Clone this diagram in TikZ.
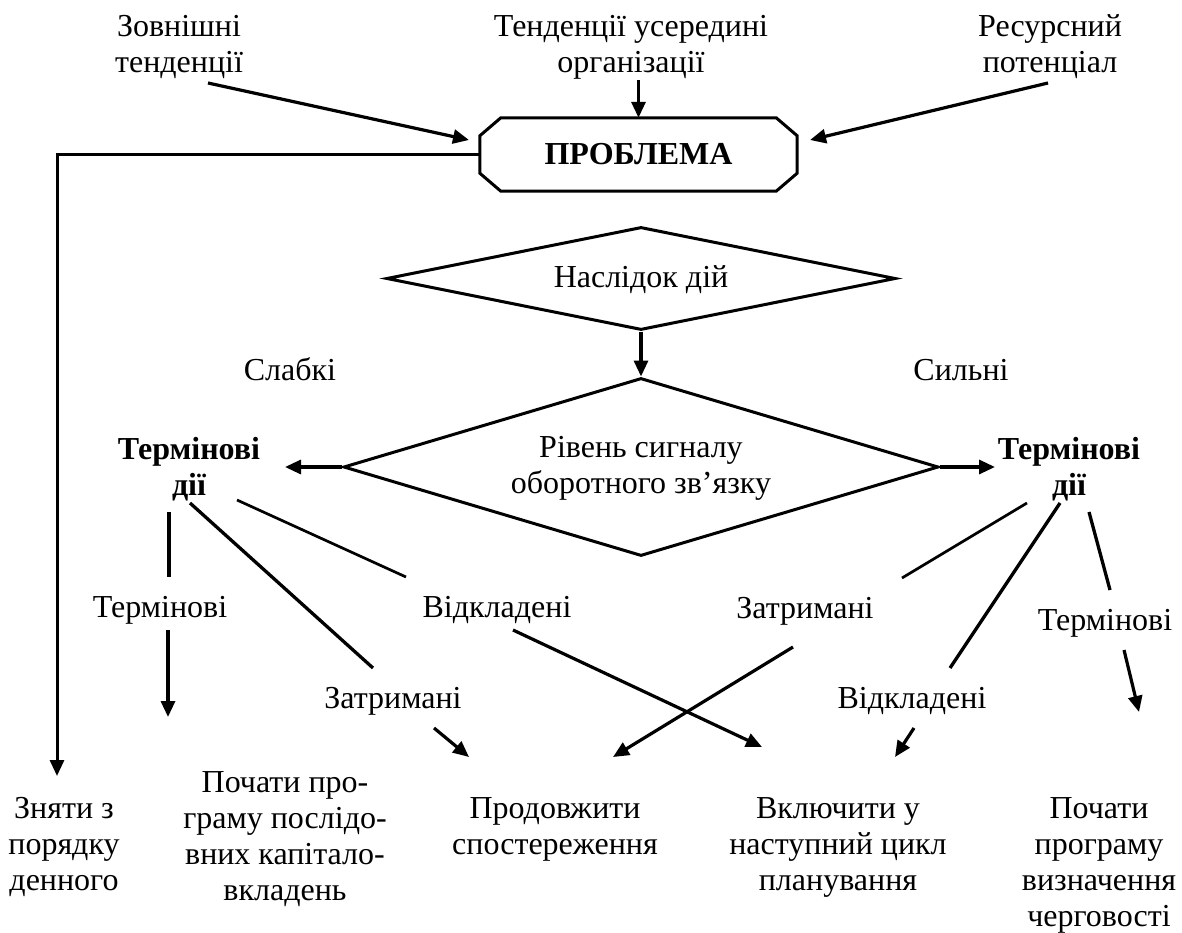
\documentclass[tikz,border=0pt]{standalone}
\usepackage{fontspec}
\setmainfont{Liberation Serif}
\usetikzlibrary{arrows.meta,shapes.geometric}
\begin{document}
\begin{tikzpicture}[x=1pt,y=-1pt,
  % multi-line texts are placed by the baseline of their last line
  txt/.style={font=\fontsize{32}{36}\selectfont, inner sep=0pt, align=center, anchor=base},
  boldtxt/.style={txt, font=\fontsize{32}{36}\selectfont\bfseries},
  outline/.style={line width=3pt, line join=miter},
  plain/.style={line width=2.7pt},
  heavy/.style={line width=3.3pt},
  arr/.style={line width=3.2pt, -{Triangle[length=16pt,width=14pt]}},
  decision/.style={draw, diamond, inner sep=0pt, outline}]
\useasboundingbox (0,0) rectangle (1182,933);

% ---- inputs at the top ----
\node[txt] (ext) at (179,73) {Зовнішні\\тенденції};
\node[txt] (int) at (631,73) {Тенденції усередині\\організації};
\node[txt] (res) at (1050,73) {Ресурсний\\потенціал};

% ---- the problem box (octagon) ----
\node[inner sep=0pt, minimum width=317pt, minimum height=73pt,
      font=\fontsize{32}{36}\selectfont\bfseries] (prob) at (638.5,154.5) {ПРОБЛЕМА};
\draw[outline] ([xshift=21pt]prob.north west) -- ([xshift=-21pt]prob.north east)
  -- ([yshift=-18pt]prob.north east) -- ([yshift=18pt]prob.south east)
  -- ([xshift=-21pt]prob.south east) -- ([xshift=21pt]prob.south west)
  -- ([yshift=18pt]prob.south west) -- ([yshift=-18pt]prob.north west) -- cycle;

\coordinate (extout) at (208,83);
\coordinate (extin)  at (469,140);
\coordinate (resout) at (1048,83);
\coordinate (resin)  at (810,140);
\draw[arr] (extout) -- (extin);
\draw[arr] (prob.north |- int.south) -- (prob.north);
\draw[arr] (resout) -- (resin);

% ---- decisions ----
\node[decision, minimum width=509pt, minimum height=103pt] (d1) at (641,278.5) {};
\node[txt] (d1t) at (641,287) {Наслідок дій};
\node[decision, minimum width=595pt, minimum height=178pt] (d2) at (641,467) {};
\node[txt] (d2t) at (641,493) {Рівень сигналу\\оборотного зв’язку};
\draw[arr] (d1.south) -- (d2.north);

\node[txt] (weak) at (290,380) {Слабкі};
\node[txt] (strong) at (961,380) {Сильні};

\node[boldtxt] (tdl) at (189,495) {Термінові\\дії};
\node[boldtxt] (tdr) at (1069,495) {Термінові\\дії};
\coordinate (tdlin) at (285,467);
\coordinate (tdrin) at (995,467);
\draw[arr] (d2.west) -- (tdlin);
\draw[arr] (d2.east) -- (tdrin);

% ---- feedback: drop from the agenda ----
\coordinate (dropin) at (57,776);
\draw[line width=3pt, -{Triangle[length=16pt,width=14pt]}] (prob.west) -| (dropin);

% ---- branch labels ----
\node[txt] (ul) at (160,617) {Термінові};
\node[txt] (zl) at (393,708) {Затримані};
\node[txt] (vl) at (497,617) {Відкладені};
\node[txt] (zr) at (805,618) {Затримані};
\node[txt] (vr) at (912,708) {Відкладені};
\node[txt] (ur) at (1105,630) {Термінові};

% ---- outcomes ----
\node[txt] (o1) at (64,890) {Зняти з\\порядку\\денного};
\node[txt] (o2) at (285,900) {Почати про-\\граму послідо-\\вних капітало-\\вкладень};
\node[txt] (o3) at (555,854) {Продовжити\\спостереження};
\node[txt] (o4) at (838,890) {Включити у\\наступний цикл\\планування};
\node[txt] (o5) at (1099,926) {Почати\\програму\\визначення\\черговості};

% ---- branches from the left urgent actions ----
\coordinate (l1a) at (169,512); \coordinate (l1b) at (169,577);
\coordinate (l1c) at (168,630); \coordinate (l1d) at (168,717);
\draw[heavy] (l1a) -- (l1b);
\draw[arr] (l1c) -- (l1d);

\coordinate (l2a) at (190,503); \coordinate (l2b) at (373,668);
\coordinate (l2c) at (434,728); \coordinate (l2d) at (469,757);
\draw[heavy] (l2a) -- (l2b);
\draw[arr] (l2c) -- (l2d);

\coordinate (l3a) at (237,500); \coordinate (l3b) at (406,577);
\coordinate (l3c) at (513,630); \coordinate (l3d) at (762,747);
\draw[plain] (l3a) -- (l3b);
\draw[arr] (l3c) -- (l3d);

% ---- branches from the right urgent actions ----
\coordinate (r1a) at (1027,503); \coordinate (r1b) at (902,578);
\coordinate (r1c) at (793,647);  \coordinate (r1d) at (613,757);
\draw[plain] (r1a) -- (r1b);
\draw[arr] (r1c) -- (r1d);

\coordinate (r2a) at (1060,503); \coordinate (r2b) at (950,668);
\coordinate (r2c) at (914,728);  \coordinate (r2d) at (895,757);
\draw[heavy] (r2a) -- (r2b);
\draw[arr] (r2c) -- (r2d);

\coordinate (r3a) at (1089,512); \coordinate (r3b) at (1110,590);
\coordinate (r3c) at (1124,650); \coordinate (r3d) at (1139,712);
\draw[heavy] (r3a) -- (r3b);
\draw[arr] (r3c) -- (r3d);
\end{tikzpicture}
\end{document}
